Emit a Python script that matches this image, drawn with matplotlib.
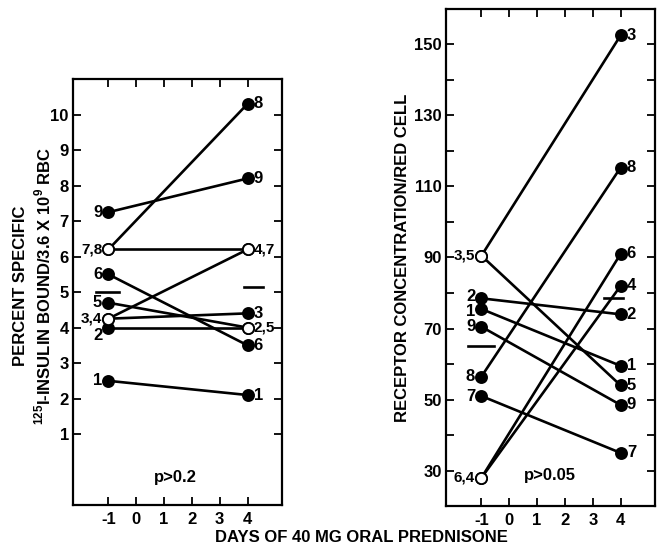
import matplotlib
matplotlib.use("Agg")
import matplotlib.pyplot as plt
import numpy as np

plt.rcParams['font.family'] = ['Liberation Sans', 'DejaVu Sans']
plt.rcParams['font.weight'] = 'bold'
plt.rcParams['mathtext.fontset'] = 'custom'
plt.rcParams['mathtext.rm'] = 'Liberation Sans:bold'
plt.rcParams['mathtext.bf'] = 'Liberation Sans:bold'
plt.rcParams['axes.unicode_minus'] = False

# days of prednisone
days = [-1, 4]
subjects = [1, 2, 3, 4, 5, 6, 7, 8, 9]

# left panel: percent specific 125I-insulin bound
ins_pre = [2.5, 4.0, 4.25, 4.25, 4.7, 5.5, 6.2, 6.2, 7.25]
ins_post = [2.1, 4.0, 4.4, 6.2, 4.0, 3.5, 6.2, 10.3, 8.2]
ins_open_pre = [3, 4, 7, 8]
ins_open_post = [2, 5, 4, 7]
ins_mean = [5.0, 5.15]
ins_pre_labels = [("1", 2.5), ("2", 4.0), ("3,4", 4.25), ("5", 4.7), ("6", 5.5), ("7,8", 6.2), ("9", 7.25)]
ins_post_labels = [("1", 2.1), ("2,5", 4.0), ("3", 4.4), ("4,7", 6.2), ("6", 3.5), ("8", 10.3), ("9", 8.2)]

# right panel: receptor concentration / red cell
rec_pre = [75.5, 78.5, 90.5, 28, 90.5, 28, 51, 56.5, 70.5]
rec_post = [59.5, 74, 152.5, 82, 54, 91, 35, 115.3, 48.5]
rec_open_pre = [3, 5, 4, 6]
rec_open_post = []
rec_mean = [65.0, 78.5]
rec_pre_labels = [("1", 75.5), ("2", 78.5), ("3,5", 90.5), ("6,4", 28), ("7", 51), ("8", 56.5), ("9", 70.5)]
rec_post_labels = [("1", 59.5), ("2", 74), ("3", 152.5), ("4", 82), ("5", 54), ("6", 91), ("7", 35), ("8", 115.3), ("9", 48.5)]

FS = 12
SMALL = 11


def draw_panel(ax, pre, post, open_pre, open_post, pre_labels, post_labels, nudge):
    for i, s in enumerate(subjects):
        ax.plot(days, [pre[i], post[i]], color='black', lw=1.9, zorder=2)
        for d, v, opn in [(days[0], pre[i], s in open_pre), (days[1], post[i], s in open_post)]:
            fc = 'white' if opn else 'black'
            ax.plot([d], [v], 'o', ms=8, mfc=fc, mec='black', mew=1.3, zorder=4 if opn else 3)
    for txt, v in pre_labels:
        fs = SMALL if ',' in txt else FS
        ax.annotate(txt, (days[0], v), xytext=(-4.5, nudge.get(txt, 0)), textcoords='offset points',
                    ha='right', va='center', fontsize=fs, fontweight='bold')
    for txt, v in post_labels:
        fs = SMALL if ',' in txt else FS
        ax.annotate(txt, (days[1], v), xytext=(4.5, 0), textcoords='offset points',
                    ha='left', va='center', fontsize=fs, fontweight='bold')


def style_axes(ax):
    for sp in ax.spines.values():
        sp.set_linewidth(1.6)
    ax.set_xlim(-2.27, 5.25)
    ax.set_xticks(range(-1, 5))
    ax.tick_params(which='both', direction='in', top=True, right=True, width=1.3,
                   labelsize=FS, pad=3, length=6)
    ax.tick_params(axis='x', pad=5)
    for lab in ax.get_xticklabels() + ax.get_yticklabels():
        lab.set_fontweight('bold')


fig = plt.figure(figsize=(6.58, 5.49), dpi=100)
axL = fig.add_axes([0.111, 0.080, 0.318, 0.776])
axR = fig.add_axes([0.678, 0.078, 0.318, 0.906])

# left panel
draw_panel(axL, ins_pre, ins_post, ins_open_pre, ins_open_post, ins_pre_labels, ins_post_labels,
           {"2": -6})
axL.plot([-1.46, -0.63], [ins_mean[0]] * 2, color='black', lw=1.9)
axL.plot([3.86, 4.54], [ins_mean[1]] * 2, color='black', lw=1.9)
axL.set_ylim(-1, 11)
axL.set_yticks(range(1, 11))
style_axes(axL)
axL.text(1.4, -0.21, "p>0.2", ha='center', va='center', fontsize=FS, fontweight='bold')

# right panel
draw_panel(axR, rec_pre, rec_post, rec_open_pre, rec_open_post, rec_pre_labels, rec_post_labels,
           {"2": 1.5, "1": -1.5})
axR.plot([-1.49, -0.55], [rec_mean[0]] * 2, color='black', lw=1.9)
axR.plot([3.42, 4.08], [rec_mean[1]] * 2, color='black', lw=1.9)
axR.set_ylim(20, 160)
axR.set_yticks(range(30, 151, 20))
axR.set_yticks(range(30, 160, 10), minor=True)
style_axes(axR)
axR.text(1.47, 28.6, "p>0.05", ha='center', va='center', fontsize=FS, fontweight='bold')

# axis titles
fig.text(0.031, 0.479, "PERCENT SPECIFIC", rotation=90, ha='center', va='center',
         fontsize=FS, fontweight='bold')
fig.text(0.065, 0.479, r"$^{125}$I-INSULIN BOUND/3.6 X 10$^{9}$ RBC", rotation=90,
         ha='center', va='center', fontsize=FS, fontweight='bold')
fig.text(0.611, 0.530, "RECEPTOR CONCENTRATION/RED CELL", rotation=90, ha='center',
         va='center', fontsize=FS, fontweight='bold')
fig.text(0.549, 0.021, "DAYS OF 40 MG ORAL PREDNISONE", ha='center', va='center',
         fontsize=12, fontweight='bold')

fig.savefig("out.png", dpi=100)
